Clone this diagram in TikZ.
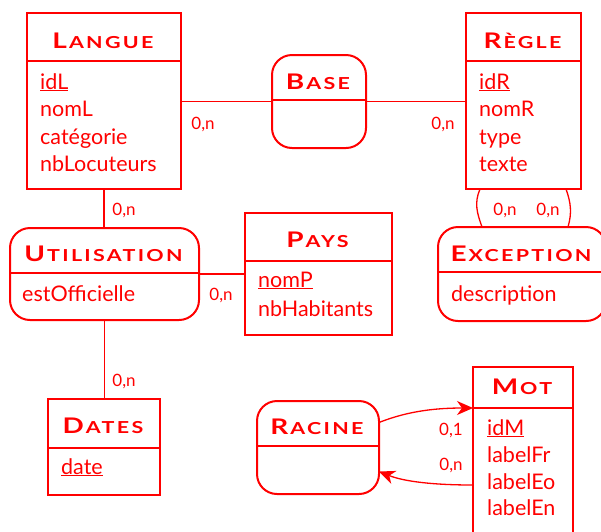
\documentclass[tikz,border=0pt]{standalone}
\usepackage{fontspec}
\setmainfont{Lato}
\usetikzlibrary{arrows.meta}
\definecolor{erred}{RGB}{255,0,0}
% small-caps style titles: larger initial, spaced, widened smaller capitals
\newcommand\ertitle[2]{{\addfontfeature{FakeStretch=1.3}{\fontsize{21.5}{21.5}\selectfont #1}\kern2pt{\fontsize{16.5}{16.5}\selectfont\addfontfeature{LetterSpace=14}#2}}}
\tikzset{
  box/.style={draw=erred, line width=2pt, inner sep=0pt, outer sep=0pt},
  entity/.style={box, rectangle},
  assoc/.style={box, rectangle, rounded corners=20pt},
  title/.style={text=erred, inner sep=0pt, anchor=base, font=\bfseries},
  attr/.style={text=erred, inner sep=0pt, anchor=base west, font=\fontsize{21.5}{21.5}\selectfont},
  card/.style={text=erred, inner sep=0pt, font=\fontsize{17}{17}\selectfont},
  link/.style={draw=erred, line width=1.3pt},
  arrowlink/.style={link, -{Stealth[length=16pt, width=14pt, inset=5pt]}},
}
\begin{document}
\begin{tikzpicture}[x=1pt, y=-1pt]
\useasboundingbox (0,0) rectangle (601,531);

% ---------- Langue ----------
\node[entity, minimum width=154pt, minimum height=176pt] (langue) at (104,101) {};
\draw[box] (langue.west |- 0,61) -- (langue.east |- 0,61);
\node[title] (langueT) at (103,48) {\ertitle{L}{ANGUE}};
\node[attr] (idL) at (40,89) {\underline{idL}};
\node[attr] (nomL) at (40,116) {nomL};
\node[attr] (catL) at (40,144) {catégorie};
\node[attr] (nbLoc) at (40,171) {nbLocuteurs};

% ---------- Règle ----------
\node[entity, minimum width=115pt, minimum height=176pt] (regle) at (523.5,101) {};
\draw[box] (regle.west |- 0,61) -- (regle.east |- 0,61);
\node[title] (regleT) at (522.5,48) {\ertitle{R}{ÈGLE}};
\node[attr] (idR) at (479,89) {\underline{idR}};
\node[attr] (nomR) at (479,116) {nomR};
\node[attr] (typeR) at (479,144) {type};
\node[attr] (texteR) at (479,171) {texte};

% ---------- Base ----------
\node[assoc, minimum width=94pt, minimum height=93pt] (base) at (319,101.5) {};
\draw[box] (base.west |- 0,100) -- (base.east |- 0,100);
\node[title] (baseT) at (318,89) {\ertitle{B}{ASE}};

% ---------- Utilisation ----------
\node[assoc, minimum width=189pt, minimum height=92pt] (util) at (104.5,274) {};
\draw[box] (util.west |- 0,273) -- (util.east |- 0,273);
\node[title] (utilT) at (103.5,261) {\ertitle{U}{TILISATION}};
\node[attr] (estOff) at (22,301) {estOfficielle};

% ---------- Pays ----------
\node[entity, minimum width=147pt, minimum height=122pt] (pays) at (318.5,274) {};
\draw[box] (pays.west |- 0,261) -- (pays.east |- 0,261);
\node[title] (paysT) at (317.5,247) {\ertitle{P}{AYS}};
\node[attr] (nomP) at (258,287) {\underline{nomP}};
\node[attr] (nbHab) at (258,316) {nbHabitants};

% ---------- Exception ----------
\node[assoc, minimum width=168pt, minimum height=94pt] (excep) at (522,274) {};
\draw[box] (excep.west |- 0,272) -- (excep.east |- 0,272);
\node[title] (excepT) at (521,261) {\ertitle{E}{XCEPTION}};
\node[attr] (descr) at (451,301) {description};

% ---------- Dates ----------
\node[entity, minimum width=112pt, minimum height=96pt] (dates) at (104,447) {};
\draw[box] (dates.west |- 0,448) -- (dates.east |- 0,448);
\node[title] (datesT) at (103,433) {\ertitle{D}{ATES}};
\node[attr] (dateA) at (61,474) {\underline{date}};

% ---------- Racine ----------
\node[assoc, minimum width=122pt, minimum height=93pt] (racine) at (318,447.5) {};
\draw[box] (racine.west |- 0,446) -- (racine.east |- 0,446);
\node[title] (racineT) at (317,434) {\ertitle{R}{ACINE}};

% ---------- Mot ----------
\node[entity, minimum width=100pt, minimum height=193pt] (mot) at (523,463.5) {};
\draw[box] (mot.west |- 0,408) -- (mot.east |- 0,408);
\node[title] (motT) at (522,394) {\ertitle{M}{OT}};
\node[attr] (idM) at (487,435) {\underline{idM}};
\node[attr] (labFr) at (487,462) {labelFr};
\node[attr] (labEo) at (487,489) {labelEo};
\node[attr] (labEn) at (487,515) {labelEn};

% ---------- connectors ----------
\draw[link] (langue.east |- base.west) -- (base.west);
\draw[link] (base.east) -- (regle.west |- base.east);
\draw[link] (langue.south) -- (langue.south |- util.north);
\draw[link] (util.east) -- (pays.west |- util.east);
\draw[link] (util.south) -- (util.south |- dates.north);
\draw[link] ([xshift=-43.5pt]regle.south) .. controls +(-6,14) and +(-5,-14) .. ([xshift=-40pt]excep.north);
\draw[link] ([xshift=42.5pt]regle.south) .. controls +(5,14) and +(4,-14) .. ([xshift=46pt]excep.north);
\draw[arrowlink] ([yshift=25pt]racine.east) .. controls +(30,-12) and +(-35,0) .. ([yshift=-41pt]mot.north west);
\draw[arrowlink] ([yshift=-21.5pt]mot.west) .. controls +(-40,0) and +(25,10) .. ([yshift=-24pt]racine.east);

% ---------- cardinalities ----------
\node[card] (c1) at (203,124) {0,n};
\node[card] (c2) at (443,124) {0,n};
\node[card] (c3) at (124,210) {0,n};
\node[card] (c4) at (221,295) {0,n};
\node[card] (c5) at (124,381) {0,n};
\node[card] (c6) at (505,210) {0,n};
\node[card] (c7) at (548,210) {0,n};
\node[card] (c8) at (451,430) {0,1};
\node[card] (c9) at (451,465) {0,n};
\end{tikzpicture}
\end{document}
